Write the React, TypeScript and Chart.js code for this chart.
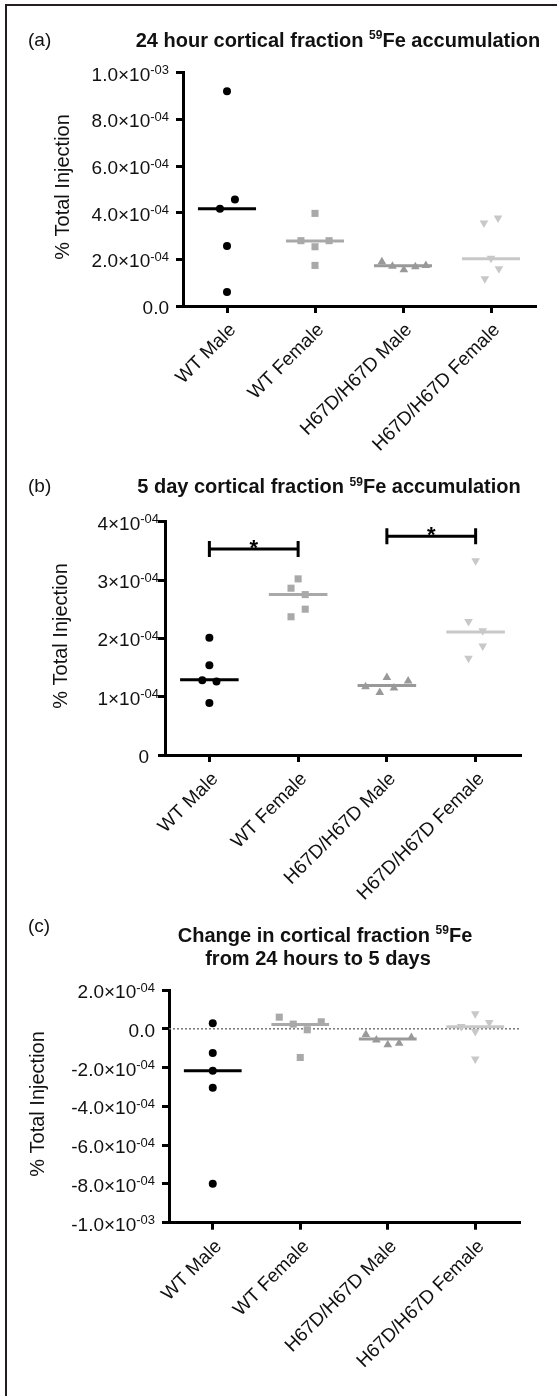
import React, { useEffect, useRef } from "react";
import { Chart, registerables } from "chart.js";

Chart.register(...registerables);

const FONT = '"Liberation Sans", Arial, Helvetica, sans-serif';

const categories = ["WT Male", "WT Female", "H67D/H67D Male", "H67D/H67D Female"];
const yAxisTitle = "% Total Injection";

// ---------- (a) 24 hour ----------
const aWTMale = [9.2e-4, 4.57e-4, 4.17e-4, 2.57e-4, 0.6e-4];
const aWTFemale = [3.97e-4, 2.8e-4, 2.8e-4, 2.54e-4, 1.74e-4];
const aH67DMale = [1.9e-4, 1.7e-4, 1.55e-4, 1.68e-4, 1.74e-4];
const aH67DFemale = [3.77e-4, 3.56e-4, 2.05e-4, 1.6e-4, 1.17e-4];
const aMedians = [4.17e-4, 2.79e-4, 1.72e-4, 2.03e-4];
const aJitter = [
  [0, 0.09, -0.08, 0, 0],
  [0, -0.16, 0.16, 0, 0],
  [-0.24, -0.12, 0.01, 0.14, 0.26],
  [0.08, -0.08, 0, 0.09, -0.07],
];
const aTickValues = [0, 2e-4, 4e-4, 6e-4, 8e-4, 1e-3];
const aTickLabels = ["0.0", "2.0×10{-04}", "4.0×10{-04}", "6.0×10{-04}", "8.0×10{-04}", "1.0×10{-03}"];
const aTitle = ["24 hour cortical fraction {59}Fe accumulation"];

// ---------- (b) 5 day ----------
const bWTMale = [2.01e-4, 1.54e-4, 1.28e-4, 1.26e-4, 0.89e-4];
const bWTFemale = [3.02e-4, 2.86e-4, 2.75e-4, 2.5e-4, 2.37e-4];
const bH67DMale = [1.33e-4, 1.27e-4, 1.17e-4, 1.15e-4, 1.07e-4];
const bH67DFemale = [3.33e-4, 2.29e-4, 2.13e-4, 1.87e-4, 1.66e-4];
const bMedians = [1.29e-4, 2.75e-4, 1.19e-4, 2.11e-4];
const bJitter = [
  [0, 0, -0.08, 0.08, 0],
  [0, -0.08, 0.08, 0.08, -0.08],
  [0, 0.24, -0.24, 0.08, -0.08],
  [0, -0.08, 0.08, 0.08, -0.08],
];
const bTickValues = [0, 1e-4, 2e-4, 3e-4, 4e-4];
const bTickLabels = ["0", "1×10{-04}", "2×10{-04}", "3×10{-04}", "4×10{-04}"];
const bTitle = ["5 day cortical fraction {59}Fe accumulation"];
const bBrackets = [
  { from: 0, to: 1, y: 3.53e-4, label: "*" },
  { from: 2, to: 3, y: 3.75e-4, label: "*" },
];

// ---------- (c) change ----------
const cWTMale = [0.29e-4, -1.25e-4, -2.16e-4, -3.04e-4, -7.99e-4];
const cWTFemale = [0.6e-4, 0.24e-4, -0.05e-4, 0.36e-4, -1.48e-4];
const cH67DMale = [-0.3e-4, -0.58e-4, -0.82e-4, -0.74e-4, -0.45e-4];
const cH67DFemale = [0.12e-4, 0.77e-4, 0.32e-4, -0.14e-4, -1.56e-4];
const cMedians = [-2.16e-4, 0.22e-4, -0.53e-4, 0.1e-4];
const cJitter = [
  [0, 0, 0, 0, 0],
  [-0.24, -0.08, 0.08, 0.24, 0],
  [-0.25, -0.13, 0, 0.13, 0.27],
  [-0.16, 0, 0.16, 0, 0],
];
const cTickValues = [-1e-3, -8e-4, -6e-4, -4e-4, -2e-4, 0, 2e-4];
const cTickLabels = ["-1.0×10{-03}", "-8.0×10{-04}", "-6.0×10{-04}", "-4.0×10{-04}", "-2.0×10{-04}", "0.0", "2.0×10{-04}"];
const cTitle = ["Change in cortical fraction {59}Fe", "from 24 hours to 5 days"];
const cReferenceLine = 0;

// ---------- styles ----------
const groupStyles = [
  { color: "#000000", pointStyle: "circle", radius: 4, rotation: 0 },
  { color: "#a9a9a9", pointStyle: "rect", radius: 5, rotation: 0 },
  { color: "#999999", pointStyle: "triangle", radius: 5, rotation: 0 },
  { color: "#c8c8c8", pointStyle: "triangle", radius: 5, rotation: 180 },
];

type Bracket = { from: number; to: number; y: number; label: string };
type PanelSpec = {
  key: string;
  canvasTop: number;
  canvasHeight: number;
  area: { left: number; right: number; top: number; bottom: number };
  yMin: number;
  yMax: number;
  tickValues: number[];
  tickLabels: string[];
  plainLabelRight: number;
  supLabelRight: number;
  series: number[][];
  jitter: number[][];
  medians: number[];
  letter: string;
  letterBaseline: number;
  title: string[];
  titleCenters: number[];
  titleBaselines: number[];
  yTitleX: number;
  yTitleY: number;
  brackets?: Bracket[];
  refLine?: number;
};

const W = 557;

const panels: PanelSpec[] = [
  {
    key: "a",
    canvasTop: 0,
    canvasHeight: 460,
    area: { left: 183, right: 535, top: 72.7, bottom: 306 },
    yMin: 0,
    yMax: 1e-3,
    tickValues: aTickValues,
    tickLabels: aTickLabels,
    plainLabelRight: 169,
    supLabelRight: 169,
    series: [aWTMale, aWTFemale, aH67DMale, aH67DFemale],
    jitter: aJitter,
    medians: aMedians,
    letter: "(a)",
    letterBaseline: 46,
    title: aTitle,
    titleCenters: [338],
    titleBaselines: [46.5],
    yTitleX: 63,
    yTitleY: 187,
  },
  {
    key: "b",
    canvasTop: 460,
    canvasHeight: 440,
    area: { left: 165, right: 520, top: 521.7, bottom: 755 },
    yMin: 0,
    yMax: 4e-4,
    tickValues: bTickValues,
    tickLabels: bTickLabels,
    plainLabelRight: 149,
    supLabelRight: 159,
    series: [bWTMale, bWTFemale, bH67DMale, bH67DFemale],
    jitter: bJitter,
    medians: bMedians,
    letter: "(b)",
    letterBaseline: 491.5,
    title: bTitle,
    titleCenters: [329],
    titleBaselines: [493],
    yTitleX: 61,
    yTitleY: 636,
    brackets: bBrackets,
  },
  {
    key: "c",
    canvasTop: 900,
    canvasHeight: 496,
    area: { left: 169, right: 519, top: 990, bottom: 1222.7 },
    yMin: -1e-3,
    yMax: 2e-4,
    tickValues: cTickValues,
    tickLabels: cTickLabels,
    plainLabelRight: 155,
    supLabelRight: 155,
    series: [cWTMale, cWTFemale, cH67DMale, cH67DFemale],
    jitter: cJitter,
    medians: cMedians,
    letter: "(c)",
    letterBaseline: 931.5,
    title: cTitle,
    titleCenters: [325, 318],
    titleBaselines: [941.5, 965],
    yTitleX: 38,
    yTitleY: 1104,
    refLine: cReferenceLine,
  },
];

function parseRich(text: string) {
  const segs: { t: string; sup: boolean }[] = [];
  const re = /\{([^}]*)\}/g;
  let last = 0;
  let m: RegExpExecArray | null;
  while ((m = re.exec(text))) {
    if (m.index > last) segs.push({ t: text.slice(last, m.index), sup: false });
    segs.push({ t: m[1], sup: true });
    last = m.index + m[0].length;
  }
  if (last < text.length) segs.push({ t: text.slice(last), sup: false });
  return segs;
}

function drawRich(
  ctx: CanvasRenderingContext2D,
  text: string,
  x: number,
  baseline: number,
  align: "left" | "right" | "center",
  mainFont: string,
  supFont: string,
  raise: number
) {
  const segs = parseRich(text);
  const widths = segs.map((s) => {
    ctx.font = s.sup ? supFont : mainFont;
    return ctx.measureText(s.t).width;
  });
  const total = widths.reduce((a, b) => a + b, 0);
  let cx = align === "right" ? x - total : align === "center" ? x - total / 2 : x;
  ctx.textAlign = "left";
  ctx.textBaseline = "alphabetic";
  segs.forEach((s, i) => {
    ctx.font = s.sup ? supFont : mainFont;
    ctx.fillText(s.t, cx, s.sup ? baseline - raise : baseline);
    cx += widths[i];
  });
}

function makeTextPlugin(p: PanelSpec) {
  return {
    id: "panelText" + p.key,
    afterDraw(chart: any) {
      const ctx: CanvasRenderingContext2D = chart.ctx;
      const xs = chart.scales.x;
      const ys = chart.scales.y;
      const off = p.canvasTop;
      ctx.save();
      ctx.fillStyle = "#111111";

      // panel letter
      ctx.font = `19px ${FONT}`;
      ctx.textAlign = "left";
      ctx.textBaseline = "alphabetic";
      ctx.fillText(p.letter, 28, p.letterBaseline - off);

      // title
      p.title.forEach((line, i) => {
        drawRich(ctx, line, p.titleCenters[i], p.titleBaselines[i] - off, "center", `bold 20px ${FONT}`, `bold 12px ${FONT}`, 7.5);
      });

      // y axis title
      ctx.save();
      ctx.translate(p.yTitleX, p.yTitleY - off);
      ctx.rotate(-Math.PI / 2);
      ctx.font = `20px ${FONT}`;
      ctx.textAlign = "center";
      ctx.textBaseline = "middle";
      ctx.fillText(yAxisTitle, 0, 0);
      ctx.restore();

      // y tick labels
      p.tickValues.forEach((v, i) => {
        const y = ys.getPixelForValue(v);
        const lab = p.tickLabels[i];
        const right = lab.includes("{") ? p.supLabelRight : p.plainLabelRight;
        drawRich(ctx, lab, right, y + 8, "right", `19px ${FONT}`, `13px ${FONT}`, 6.5);
      });

      // x tick labels (rotated)
      ctx.font = `19px ${FONT}`;
      categories.forEach((c, i) => {
        const x = xs.getPixelForValue(i);
        ctx.save();
        ctx.translate(x + 6, ys.bottom + 21);
        ctx.rotate(-Math.PI / 4);
        ctx.textAlign = "right";
        ctx.textBaseline = "middle";
        ctx.fillText(c, 0, 0);
        ctx.restore();
      });

      // significance brackets
      (p.brackets || []).forEach((b) => {
        const x1 = xs.getPixelForValue(b.from);
        const x2 = xs.getPixelForValue(b.to);
        const y = ys.getPixelForValue(b.y);
        ctx.strokeStyle = "#000";
        ctx.lineWidth = 3;
        ctx.beginPath();
        ctx.moveTo(x1, y);
        ctx.lineTo(x2, y);
        ctx.moveTo(x1, y - 8);
        ctx.lineTo(x1, y + 8);
        ctx.moveTo(x2, y - 8);
        ctx.lineTo(x2, y + 8);
        ctx.stroke();
        ctx.font = `bold 22px ${FONT}`;
        ctx.textAlign = "center";
        ctx.textBaseline = "alphabetic";
        ctx.fillStyle = "#000";
        ctx.fillText(b.label, (x1 + x2) / 2, y + 6);
      });
      ctx.restore();
    },
  };
}

function buildConfig(p: PanelSpec): any {
  const datasets: any[] = [];
  p.series.forEach((vals, g) => {
    const st = groupStyles[g];
    datasets.push({
      label: categories[g],
      data: vals.map((v, i) => ({ x: g + p.jitter[g][i], y: v })),
      pointStyle: st.pointStyle,
      pointRadius: st.radius,
      pointRotation: st.rotation,
      pointBackgroundColor: st.color,
      pointBorderColor: st.color,
      pointBorderWidth: 0,
      showLine: false,
      clip: false,
      order: 0,
    });
  });
  p.medians.forEach((m, g) => {
    datasets.push({
      label: categories[g] + " median",
      data: [
        { x: g - 0.33, y: m },
        { x: g + 0.33, y: m },
      ],
      showLine: true,
      borderColor: groupStyles[g].color,
      borderWidth: 3,
      pointRadius: 0,
      clip: false,
      order: 1,
    });
  });
  if (p.refLine !== undefined) {
    datasets.push({
      label: "zero",
      data: [
        { x: -0.5, y: p.refLine },
        { x: 3.5, y: p.refLine },
      ],
      showLine: true,
      borderColor: "#777777",
      borderWidth: 1.5,
      borderDash: [2, 2],
      pointRadius: 0,
      order: 2,
    });
  }

  const axisCommon = {
    ticks: { display: false },
    grid: {
      display: true,
      drawOnChartArea: false,
      drawTicks: true,
      tickLength: 7,
      color: "#000",
      lineWidth: 3,
    },
    border: { display: true, color: "#000", width: 3 },
  };

  return {
    type: "scatter",
    data: { datasets },
    options: {
      responsive: false,
      animation: false,
      devicePixelRatio: 1,
      events: [],
      layout: {
        padding: {
          top: p.area.top - p.canvasTop,
          right: W - p.area.right,
          left: 0,
          bottom: 0,
        },
      },
      plugins: {
        legend: { display: false },
        tooltip: { enabled: false },
        title: { display: false },
      },
      scales: {
        x: {
          type: "linear",
          min: -0.5,
          max: 3.5,
          ...axisCommon,
          afterBuildTicks: (s: any) => {
            s.ticks = categories.map((_, i) => ({ value: i }));
          },
          afterFit: (s: any) => {
            s.height = p.canvasTop + p.canvasHeight - p.area.bottom;
          },
        },
        y: {
          type: "linear",
          min: p.yMin,
          max: p.yMax,
          ...axisCommon,
          afterBuildTicks: (s: any) => {
            s.ticks = p.tickValues.map((v) => ({ value: v }));
          },
          afterFit: (s: any) => {
            s.width = p.area.left;
          },
        },
      },
    },
    plugins: [makeTextPlugin(p)],
  };
}

function PanelChart({ spec }: { spec: PanelSpec }) {
  const ref = useRef<HTMLCanvasElement>(null);
  useEffect(() => {
    if (!ref.current) return;
    const chart = new Chart(ref.current, buildConfig(spec));
    return () => chart.destroy();
  }, [spec]);
  return (
    <canvas
      ref={ref}
      width={W}
      height={spec.canvasHeight}
      style={{ position: "absolute", left: 0, top: spec.canvasTop, width: W, height: spec.canvasHeight }}
    />
  );
}

export default function App() {
  return (
    <div
      style={{
        position: "absolute",
        left: 0,
        top: 0,
        width: W,
        height: 1396,
        background: "#ffffff",
        overflow: "hidden",
      }}
    >
      {panels.map((p) => (
        <PanelChart key={p.key} spec={p} />
      ))}
      <div
        style={{
          position: "absolute",
          left: 5,
          top: 4,
          width: W - 5,
          height: 1392,
          boxSizing: "border-box",
          borderLeft: "2px solid #231f20",
          borderTop: "2px solid #231f20",
          pointerEvents: "none",
        }}
      />
    </div>
  );
}
